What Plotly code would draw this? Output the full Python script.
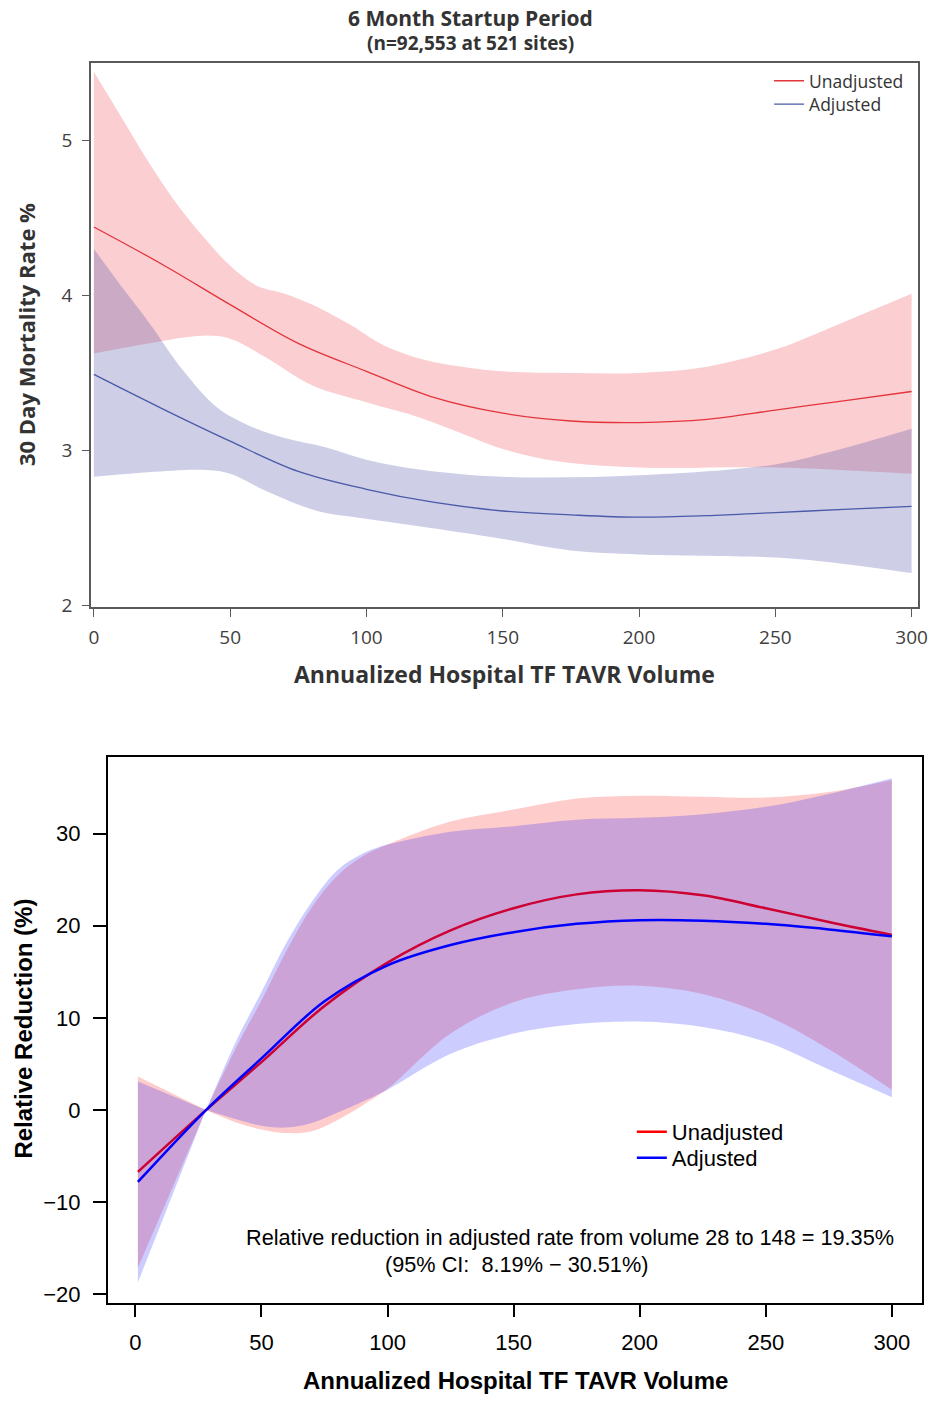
import plotly.graph_objects as go

# ---------------- Top panel data (30-day mortality %) ----------------
top_unadj_x = [0, 25, 50, 75, 100, 125, 150, 175, 200, 225, 250, 275, 300]
top_unadj_y = [4.44, 4.20, 3.94, 3.69, 3.51, 3.34, 3.24, 3.19, 3.18, 3.20, 3.26, 3.32, 3.38]

top_unadj_up_x = [0, 10, 20, 30, 40, 50, 60, 70, 80, 95, 105, 120, 135, 150, 175, 200, 225, 250, 270, 285, 300]
top_unadj_up_y = [5.44, 5.15, 4.86, 4.60, 4.38, 4.19, 4.06, 4.01, 3.94, 3.80, 3.69, 3.59, 3.54, 3.51, 3.50, 3.50, 3.54, 3.65, 3.79, 3.90, 4.01]
top_unadj_lo_x = [0, 20, 40, 50, 63, 80, 100, 120, 135, 150, 170, 200, 250, 300]
top_unadj_lo_y = [3.625, 3.69, 3.74, 3.72, 3.60, 3.42, 3.31, 3.21, 3.11, 3.01, 2.93, 2.89, 2.89, 2.85]

top_adj_x = [0, 25, 50, 75, 100, 125, 150, 175, 200, 225, 250, 275, 300]
top_adj_y = [3.49, 3.27, 3.06, 2.865, 2.75, 2.665, 2.61, 2.585, 2.57, 2.58, 2.60, 2.62, 2.64]

top_adj_up_x = [0, 10, 20, 33, 45, 57, 70, 85, 100, 120, 150, 200, 250, 270, 300]
top_adj_up_y = [4.30, 4.06, 3.83, 3.51, 3.28, 3.16, 3.08, 3.02, 2.94, 2.875, 2.83, 2.84, 2.91, 2.99, 3.14]
top_adj_lo_x = [0, 20, 40, 50, 63, 82, 100, 120, 150, 175, 200, 250, 270, 300]
top_adj_lo_y = [2.83, 2.86, 2.875, 2.85, 2.74, 2.61, 2.56, 2.51, 2.43, 2.355, 2.33, 2.31, 2.28, 2.21]

top_yticks = [2, 3, 4, 5]
top_xticks = [0, 50, 100, 150, 200, 250, 300]

# ---------------- Bottom panel data (relative reduction %) ----------------
bot_line_x = [1, 28, 50, 75, 100, 125, 150, 175, 200, 225, 250, 275, 300]
bot_unadj_y = [-6.7, 0, 5.2, 11.3, 16.0, 19.5, 21.9, 23.4, 23.85, 23.3, 21.9, 20.4, 19.0]
bot_adj_y = [-7.8, 0, 5.6, 11.8, 15.7, 17.9, 19.3, 20.2, 20.6, 20.55, 20.2, 19.6, 18.85]

bot_left_x = [1, 28]
bot_unadj_up_left = [3.65, 0]
bot_unadj_lo_left = [-17.1, 0]
bot_adj_up_left = [3.1, 0]
bot_adj_lo_left = [-18.7, 0]

bot_band_x = [28, 40, 50, 60, 70, 80, 90, 100, 125, 150, 175, 200, 225, 250, 275, 300]
bot_unadj_up_y = [0, 6.8, 11.9, 17.3, 22.0, 25.4, 27.5, 28.8, 31.3, 32.6, 33.8, 34.1, 34.0, 33.9, 34.5, 35.8]
bot_adj_up_y = [0, 7.5, 12.8, 18.2, 22.6, 26.0, 27.8, 28.8, 30.2, 30.8, 31.5, 31.7, 32.1, 32.9, 34.3, 36.0]
bot_unadj_lo_y = [0, -1.35, -2.1, -2.5, -2.3, -1.1, 0.5, 2.3, 8.3, 11.7, 13.1, 13.5, 12.6, 10.3, 6.6, 2.2]
bot_adj_lo_y = [0, -1.0, -1.7, -1.9, -1.4, -0.3, 0.9, 2.2, 6.1, 8.3, 9.35, 9.6, 9.0, 7.4, 4.4, 1.4]

bot_yticks = [-20, -10, 0, 10, 20, 30]
bot_xticks = [0, 50, 100, 150, 200, 250, 300]

# ---------------- Styles ----------------
TOP_FONT = "Open Sans"
BOT_FONT = "Liberation Sans, Arial"
top_red_fill = "rgba(240,60,70,0.25)"
top_blue_fill = "rgba(80,80,170,0.28)"
top_red_line = "#E3343C"
top_blue_line = "#4A5AA8"
bot_red_fill = "rgba(255,0,0,0.2)"
bot_blue_fill = "rgba(0,0,255,0.2)"

fig = go.Figure()

def band(xa, ya, lo_x, lo_y, up_x, up_y, color, shape="spline"):
    fig.add_trace(go.Scatter(x=lo_x, y=lo_y, xaxis=xa, yaxis=ya, mode="lines",
                             line=dict(width=0, shape=shape), showlegend=False, hoverinfo="skip"))
    fig.add_trace(go.Scatter(x=up_x, y=up_y, xaxis=xa, yaxis=ya, mode="lines",
                             line=dict(width=0, shape=shape), fill="tonexty", fillcolor=color,
                             showlegend=False, hoverinfo="skip"))

band("x", "y", top_unadj_lo_x, top_unadj_lo_y, top_unadj_up_x, top_unadj_up_y, top_red_fill)
fig.add_trace(go.Scatter(x=top_unadj_x, y=top_unadj_y, mode="lines", name="Unadjusted",
                         line=dict(color=top_red_line, width=1.3, shape="spline"), legend="legend"))
band("x", "y", top_adj_lo_x, top_adj_lo_y, top_adj_up_x, top_adj_up_y, top_blue_fill)
fig.add_trace(go.Scatter(x=top_adj_x, y=top_adj_y, mode="lines", name="Adjusted",
                         line=dict(color=top_blue_line, width=1.3, shape="spline"), legend="legend3"))

band("x2", "y2", bot_left_x, bot_unadj_lo_left, bot_left_x, bot_unadj_up_left, bot_red_fill, "linear")
band("x2", "y2", bot_band_x, bot_unadj_lo_y, bot_band_x, bot_unadj_up_y, bot_red_fill)
fig.add_trace(go.Scatter(x=bot_line_x, y=bot_unadj_y, xaxis="x2", yaxis="y2", mode="lines",
                         name="Unadjusted", line=dict(color="#FF0000", width=2.5, shape="spline"),
                         legend="legend2"))
band("x2", "y2", bot_left_x, bot_adj_lo_left, bot_left_x, bot_adj_up_left, bot_blue_fill, "linear")
band("x2", "y2", bot_band_x, bot_adj_lo_y, bot_band_x, bot_adj_up_y, bot_blue_fill)
fig.add_trace(go.Scatter(x=bot_line_x, y=bot_adj_y, xaxis="x2", yaxis="y2", mode="lines",
                         name="Adjusted", line=dict(color="#0000FF", width=2.5, shape="spline"),
                         legend="legend4"))

W, H = 940, 1405
def px(xp): return xp / W
def py(yp): return 1 - yp / H

top_axis_common = dict(showline=True, linecolor="#5a5a5a", linewidth=1.5, mirror=True,
                       ticks="outside", tickcolor="#5a5a5a", tickwidth=1.2, showgrid=False,
                       zeroline=False, tickfont=dict(family=TOP_FONT, size=19, color="#404040"))
bot_axis_common = dict(showline=True, linecolor="black", linewidth=1.5, mirror=True,
                       ticks="outside", tickcolor="black", tickwidth=1.5, ticklen=13,
                       showgrid=False, zeroline=False,
                       tickfont=dict(family=BOT_FONT, size=22, color="black"))

def leg(xp, yp, fam, size, color):
    return dict(x=px(xp), y=py(yp), xanchor="left", yanchor="middle",
                bgcolor="rgba(0,0,0,0)", font=dict(family=fam, size=size, color=color),
                tracegroupgap=0, itemwidth=30)

fig.update_layout(
    width=W, height=H, margin=dict(l=0, r=0, t=0, b=0),
    paper_bgcolor="white", plot_bgcolor="white",
    xaxis=dict(domain=[px(90), px(928)], range=[-1.1, 302.4], anchor="y",
               tickvals=top_xticks, ticklen=8, ticklabelstandoff=4, **top_axis_common),
    yaxis=dict(domain=[py(612), py(63)], range=[1.99, 5.5], anchor="x",
               tickvals=top_yticks, ticklen=7, ticklabelstandoff=6, **top_axis_common),
    xaxis2=dict(domain=[px(107), px(932)], range=[-11, 312], anchor="y2",
                tickvals=bot_xticks, ticklabelstandoff=6, **bot_axis_common),
    yaxis2=dict(domain=[py(1313), py(763)], range=[-20.9, 38.3], anchor="x2",
                tickvals=bot_yticks, ticklabelstandoff=8, **bot_axis_common),
    legend=leg(777, 81.5, TOP_FONT, 17.5, "#333333"),
    legend3=leg(777, 105, TOP_FONT, 17.5, "#333333"),
    legend2=leg(638, 1141, BOT_FONT, 22, "black"),
    legend4=leg(638, 1167, BOT_FONT, 22, "black"),
    showlegend=True,
)

annos = [
    dict(text="<b>6 Month Startup Period</b>", x=px(475), y=py(18),
         font=dict(family=TOP_FONT, size=21, color="#333333")),
    dict(text="<b>(n=92,553 at 521 sites)</b>", x=px(475), y=py(43),
         font=dict(family=TOP_FONT, size=19, color="#333333")),
    dict(text="<b>Annualized Hospital TF TAVR Volume</b>", x=px(509), y=py(679),
         font=dict(family=TOP_FONT, size=23, color="#333333")),
    dict(text="<b>30 Day Mortality Rate %</b>", x=px(25), y=py(337), textangle=-90,
         font=dict(family=TOP_FONT, size=22, color="#333333")),
    dict(text="<b>Annualized Hospital TF TAVR Volume</b>", x=px(520), y=py(1391),
         font=dict(family=BOT_FONT, size=24, color="black")),
    dict(text="<b>Relative Reduction (%)</b>", x=px(22), y=py(1037), textangle=-90,
         font=dict(family=BOT_FONT, size=24, color="black")),
]
for a in annos:
    fig.add_annotation(xref="paper", yref="paper", showarrow=False,
                       xanchor="center", yanchor="middle", **a)

fig.add_annotation(xref="x2", yref="y2", x=301.5, y=-13.8, xanchor="right", yanchor="middle",
                   showarrow=False,
                   text="Relative reduction in adjusted rate from volume 28 to 148 = 19.35%",
                   font=dict(family=BOT_FONT, size=21.7, color="black"))
fig.add_annotation(xref="x2", yref="y2", x=151, y=-16.7, xanchor="center", yanchor="middle",
                   showarrow=False,
                   text="(95% CI:\u00a0\u00a08.19% \u2212 30.51%)",
                   font=dict(family=BOT_FONT, size=21.7, color="black"))

fig.write_html("out.html")
